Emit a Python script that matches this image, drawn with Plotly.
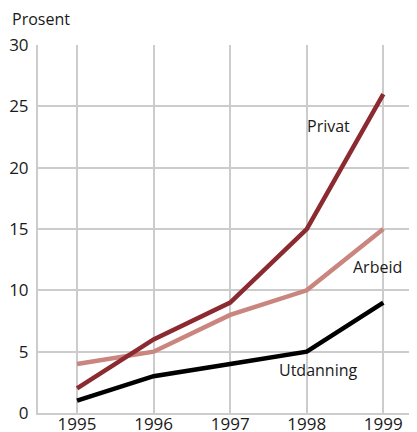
import plotly.graph_objects as go

### data
years = [1995, 1996, 1997, 1998, 1999]
privat = [2, 6, 9, 15, 26]
arbeid = [4, 5, 8, 10, 15]
utdanning = [1, 3, 4, 5, 9]

y_ticks = [0, 5, 10, 15, 20, 25, 30]

font_family = "Open Sans"
text_color = "#1a1a1a"
grid_color = "#cccccc"

fig = go.Figure()
fig.add_trace(go.Scatter(x=years, y=arbeid, mode="lines", name="Arbeid",
                         line=dict(color="#c9857e", width=4.5)))
fig.add_trace(go.Scatter(x=years, y=privat, mode="lines", name="Privat",
                         line=dict(color="#8c2a31", width=4.5)))
fig.add_trace(go.Scatter(x=years, y=utdanning, mode="lines", name="Utdanning",
                         line=dict(color="#000000", width=4.5)))

# line labels
labels = [("Privat", 1998.28, 23.4), ("Arbeid", 1998.92, 11.9), ("Utdanning", 1998.15, 3.5)]
for text, x, y in labels:
    fig.add_annotation(x=x, y=y, text=text, showarrow=False,
                       font=dict(family=font_family, size=16, color=text_color))

fig.add_annotation(xref="paper", yref="paper", x=-0.075, y=1.035, xanchor="left", yanchor="bottom",
                   text="Prosent", showarrow=False,
                   font=dict(family=font_family, size=16, color=text_color))

fig.update_xaxes(range=[1994.49, 1999.44], tickvals=years, showgrid=True,
                 gridcolor=grid_color, gridwidth=2, zeroline=False,
                 showline=True, linecolor=grid_color, linewidth=2,
                 ticklabelstandoff=-5,
                 tickfont=dict(family=font_family, size=17, color=text_color))
fig.update_yaxes(range=[0, 30], tickvals=y_ticks, showgrid=True,
                 gridcolor=grid_color, gridwidth=2, zeroline=False,
                 showline=True, linecolor=grid_color, linewidth=2,
                 ticklabelstandoff=4,
                 tickfont=dict(family=font_family, size=17, color=text_color))

# page body adds an 8px offset, so the figure is drawn 8px smaller
fig.update_layout(width=409, height=424, showlegend=False,
                  margin=dict(l=30, r=0, t=37, b=19, autoexpand=False),
                  plot_bgcolor="white", paper_bgcolor="white")

fig.write_html("out.html")
